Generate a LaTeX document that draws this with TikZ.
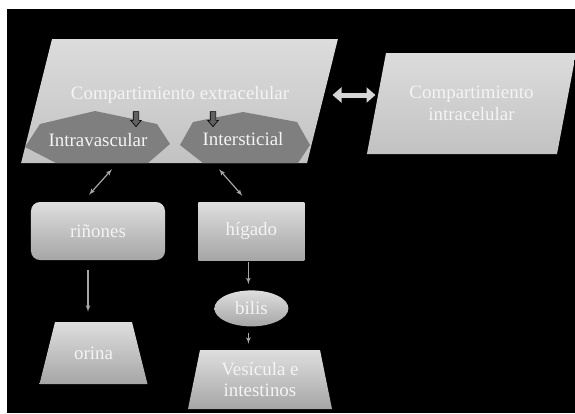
\documentclass[tikz,border=0pt]{standalone}
\usepackage{fontspec}
\setmainfont{Liberation Serif}
\usetikzlibrary{shapes.geometric, shapes.arrows, arrows, arrows.meta, positioning}

\definecolor{boxtop}{HTML}{DEDEDE}
\definecolor{boxbot}{HTML}{A6A6A6}
\definecolor{paratop}{HTML}{DCDCDC}
\definecolor{parabot}{HTML}{C2C2C2}
\definecolor{heptagray}{HTML}{7F7F7F}
\definecolor{linegray}{HTML}{A6A6A6}
\definecolor{widegray}{HTML}{D6D6D6}
\definecolor{txtwhite}{HTML}{F4F4F4}

\begin{document}
\begin{tikzpicture}[x=1bp, y=-1bp, >=latex',
    every node/.style={font=\fontsize{19}{22}\selectfont, text=txtwhite, align=center, inner sep=0pt},
    para/.style={trapezium, trapezium stretches body, top color=paratop, bottom color=parabot},
    trap/.style={trapezium, trapezium stretches body, top color=boxtop, bottom color=boxbot},
    box/.style={top color=boxtop, bottom color=boxbot},
    hepta/.style={fill=heptagray},
    conn/.style={->, draw=linegray, line width=1.2bp},
    both/.style={<->, draw=linegray, line width=1.2bp},
    wide/.style={{Triangle[width=15bp,length=9bp]}-{Triangle[width=15bp,length=9bp]}, draw=widegray, line width=5bp},
    downarr/.style={single arrow, rotate=-90, fill=black!62, draw=black, line width=0.6bp, inner xsep=0pt, inner ysep=2.5bp, minimum height=15bp, single arrow head extend=2.5bp, single arrow tip angle=80}]
    \useasboundingbox (0,0) rectangle (575,413);
    \fill[white] (0,0) rectangle (575,413);
    \fill[black] (7,9) rectangle (575,413);

    % compartimientos
    \node [para, trapezium left angle=76, trapezium right angle=104, inner xsep=127.5bp, inner ysep=62bp] (extra) at (179.5,101) {};
    \node [para, trapezium left angle=79.3, trapezium right angle=100.7, inner xsep=85.5bp, inner ysep=50.5bp] (intra) at (471.5,103.5) {};
    \node (intratxt) at (intra.center) {Compartimiento\\intracelular};

    \fill[hepta] (25,147) -- (40,124) -- (95,111) -- (157,124) -- (170,144) -- (148,163) -- (56,163) -- cycle;
    \fill[hepta] (180,145) -- (193,122) -- (243,112) -- (297,122) -- (310,145) -- (298,163) -- (203,163) -- cycle;
    \node (extlbl) at (180,95) {Compartimiento extracelular};
    \node (intv) at (98,140) {Intravascular};
    \node (inter) at (243,139) {Intersticial};
    \node [downarr] (pin1) at (136,117.5) {};
    \node [downarr] (pin2) at (213,117.5) {};

    % organos
    \node [box, rectangle, rounded corners=9bp, minimum width=134bp, minimum height=58bp] (rin) at (98,231) {riñones};
    \node [box, rectangle, minimum width=106bp, minimum height=58bp, right=33bp of rin] (hig) {hígado};
    \node [box, ellipse, minimum width=74bp, minimum height=36bp, below=30bp of hig] (bil) {bilis};
    \node [trap, trapezium left angle=76, trapezium right angle=76, inner xsep=38.5bp, inner ysep=31bp] (ori) at (93.5,353) {};
    \node (oritxt) at (ori.center) {orina};
    \node [trap, trapezium left angle=78.5, trapezium right angle=78.5, inner xsep=60bp, inner ysep=29.5bp] (ves) at (260,379.5) {};
    \node (vestxt) at (ves.center) {Vesícula e\\intestinos};

    \coordinate (dblL) at ([xshift=153bp, yshift=6bp]extra.center);
    \coordinate (dblR) at ([xshift=-96bp]intra.center);
    \draw[wide] (dblL) -- (dblL -| dblR);
    \draw[both] ([xshift=-67.5bp, yshift=-6bp]extra.south) -- ([xshift=-9bp, yshift=7bp]rin.north);
    \draw[both] ([xshift=39.5bp, yshift=-6bp]extra.south) -- ([xshift=-9bp, yshift=6bp]hig.north);
    \draw[conn, shorten <=10bp, shorten >=10bp] ([xshift=-10bp]rin.south) -- ([xshift=-10bp]rin.south |- ori.north);
    \draw[conn, shorten <=2bp, shorten >=6bp] ([xshift=-3bp]hig.south) -- ([xshift=-3bp]hig.south |- bil.north);
    \draw[conn, shorten <=6bp, shorten >=6bp] ([xshift=-3bp]bil.south) -- ([xshift=-3bp]bil.south |- ves.north);
\end{tikzpicture}
\end{document}
